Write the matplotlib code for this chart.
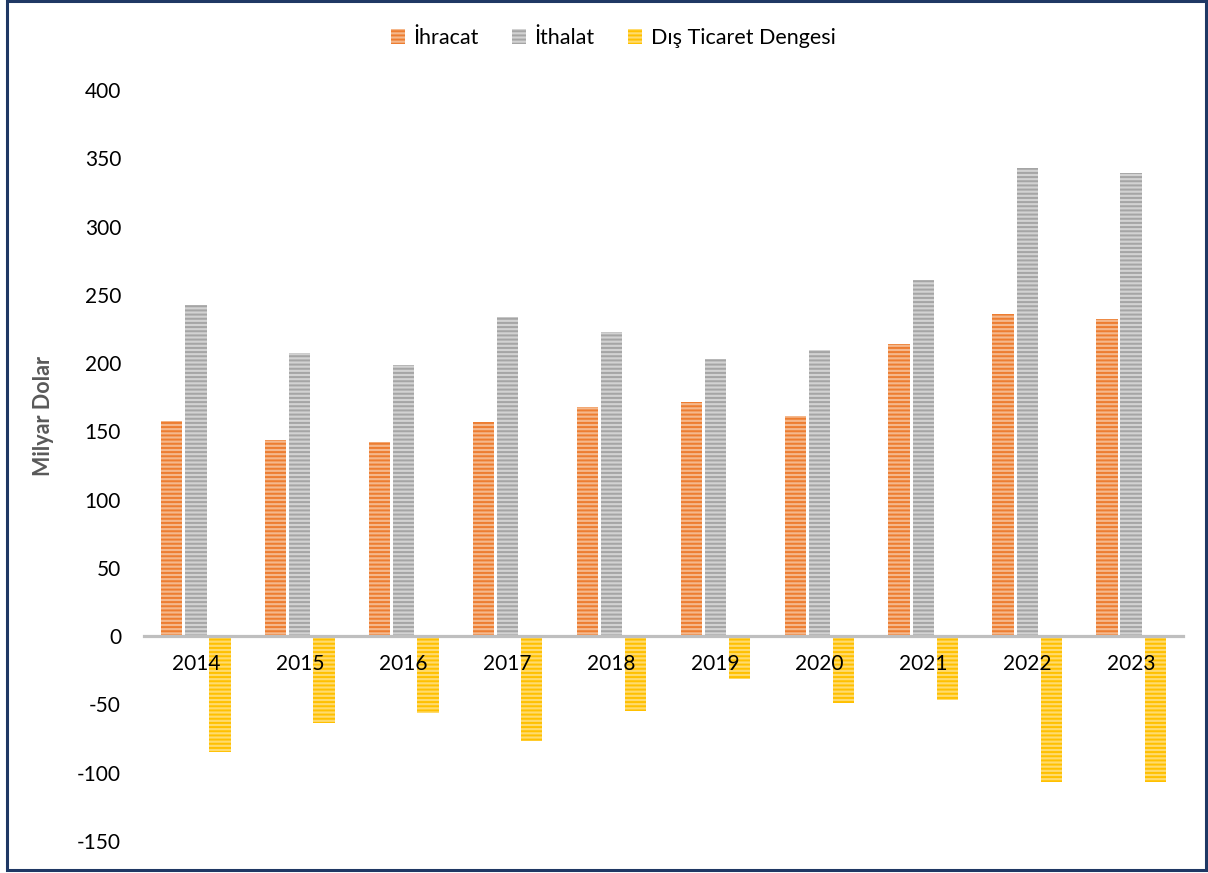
import matplotlib
matplotlib.use("Agg")
import matplotlib.pyplot as plt
from matplotlib.patches import Patch, Rectangle
import numpy as np

years = ["2014", "2015", "2016", "2017", "2018", "2019", "2020", "2021", "2022", "2023"]
ihracat = [157.6, 143.8, 142.5, 157.0, 167.9, 171.5, 160.9, 214.1, 235.6, 232.6]
ithalat = [242.2, 207.2, 198.6, 233.8, 223.0, 202.7, 209.8, 260.9, 342.6, 339.3]
denge = [-84.6, -63.4, -56.1, -76.8, -55.1, -31.2, -48.9, -46.8, -107.0, -106.7]
series_names = ["İhracat", "İthalat", "Dış Ticaret Dengesi"]
y_ticks = [-150, -100, -50, 0, 50, 100, 150, 200, 250, 300, 350, 400]

main_colors = ["#ED7D31", "#A5A5A5", "#FFC000"]
light_colors = ["#F5B88C", "#D2D2D2", "#FFDB6E"]

plt.rcParams['font.family'] = ['Lato', 'DejaVu Sans']
plt.rcParams['hatch.linewidth'] = 1.45

fig = plt.figure(figsize=(12.08, 8.73), dpi=100)
W, H = 1208, 873
ax = fig.add_axes([144 / W, 1 - 841 / H, (1183 - 144) / W, (841 - 90) / H])

x = np.arange(len(years))
bw = 0.205
step = 0.232
data = [ihracat, ithalat, denge]
for i, vals in enumerate(data):
    ax.bar(x + (i - 1) * step, vals, width=bw, facecolor=light_colors[i],
           edgecolor=main_colors[i], linewidth=0, hatch='----', zorder=1)

ax.set_xlim(-0.5, len(years) - 0.5)
ax.set_ylim(-150, 400)
ax.set_yticks(y_ticks)
ax.set_yticklabels([str(v) for v in y_ticks])
ax.set_xticks(x)
ax.set_xticklabels(years)

for s in ['top', 'right', 'left']:
    ax.spines[s].set_visible(False)
ax.spines['bottom'].set_position(('data', 0))
ax.spines['bottom'].set_color('#BFBFBF')
ax.spines['bottom'].set_linewidth(2.3)
ax.spines['bottom'].set_zorder(3)
ax.xaxis.set_zorder(5)
ax.yaxis.set_zorder(5)

ax.tick_params(axis='y', length=0, pad=16.5, labelsize=15, labelcolor='#000000')
ax.tick_params(axis='x', length=0, pad=13, labelsize=15, labelcolor='#000000')

fig.text(44 / W, 1 - 416 / H, "Milyar Dolar", rotation=90, ha='center', va='center',
         fontsize=15.5, fontweight='bold', color='#595959')

handles = [Patch(facecolor=light_colors[i], edgecolor=main_colors[i], linewidth=0,
                 hatch='----', label=series_names[i]) for i in range(3)]
fig.legend(handles=handles, loc='center', bbox_to_anchor=(613 / W, 1 - 38 / H), ncol=3,
           frameon=False, fontsize=15.5, handlelength=0.65, handleheight=0.65,
           handletextpad=0.4, columnspacing=1.55)

fig.patches.append(Rectangle((7.5 / W, 1 - 870 / H), (1206 - 7.5) / W, (870 - 1) / H,
                             transform=fig.transFigure, fill=False,
                             edgecolor='#1F3864', linewidth=2.2))

fig.savefig("out.png", dpi=100)
